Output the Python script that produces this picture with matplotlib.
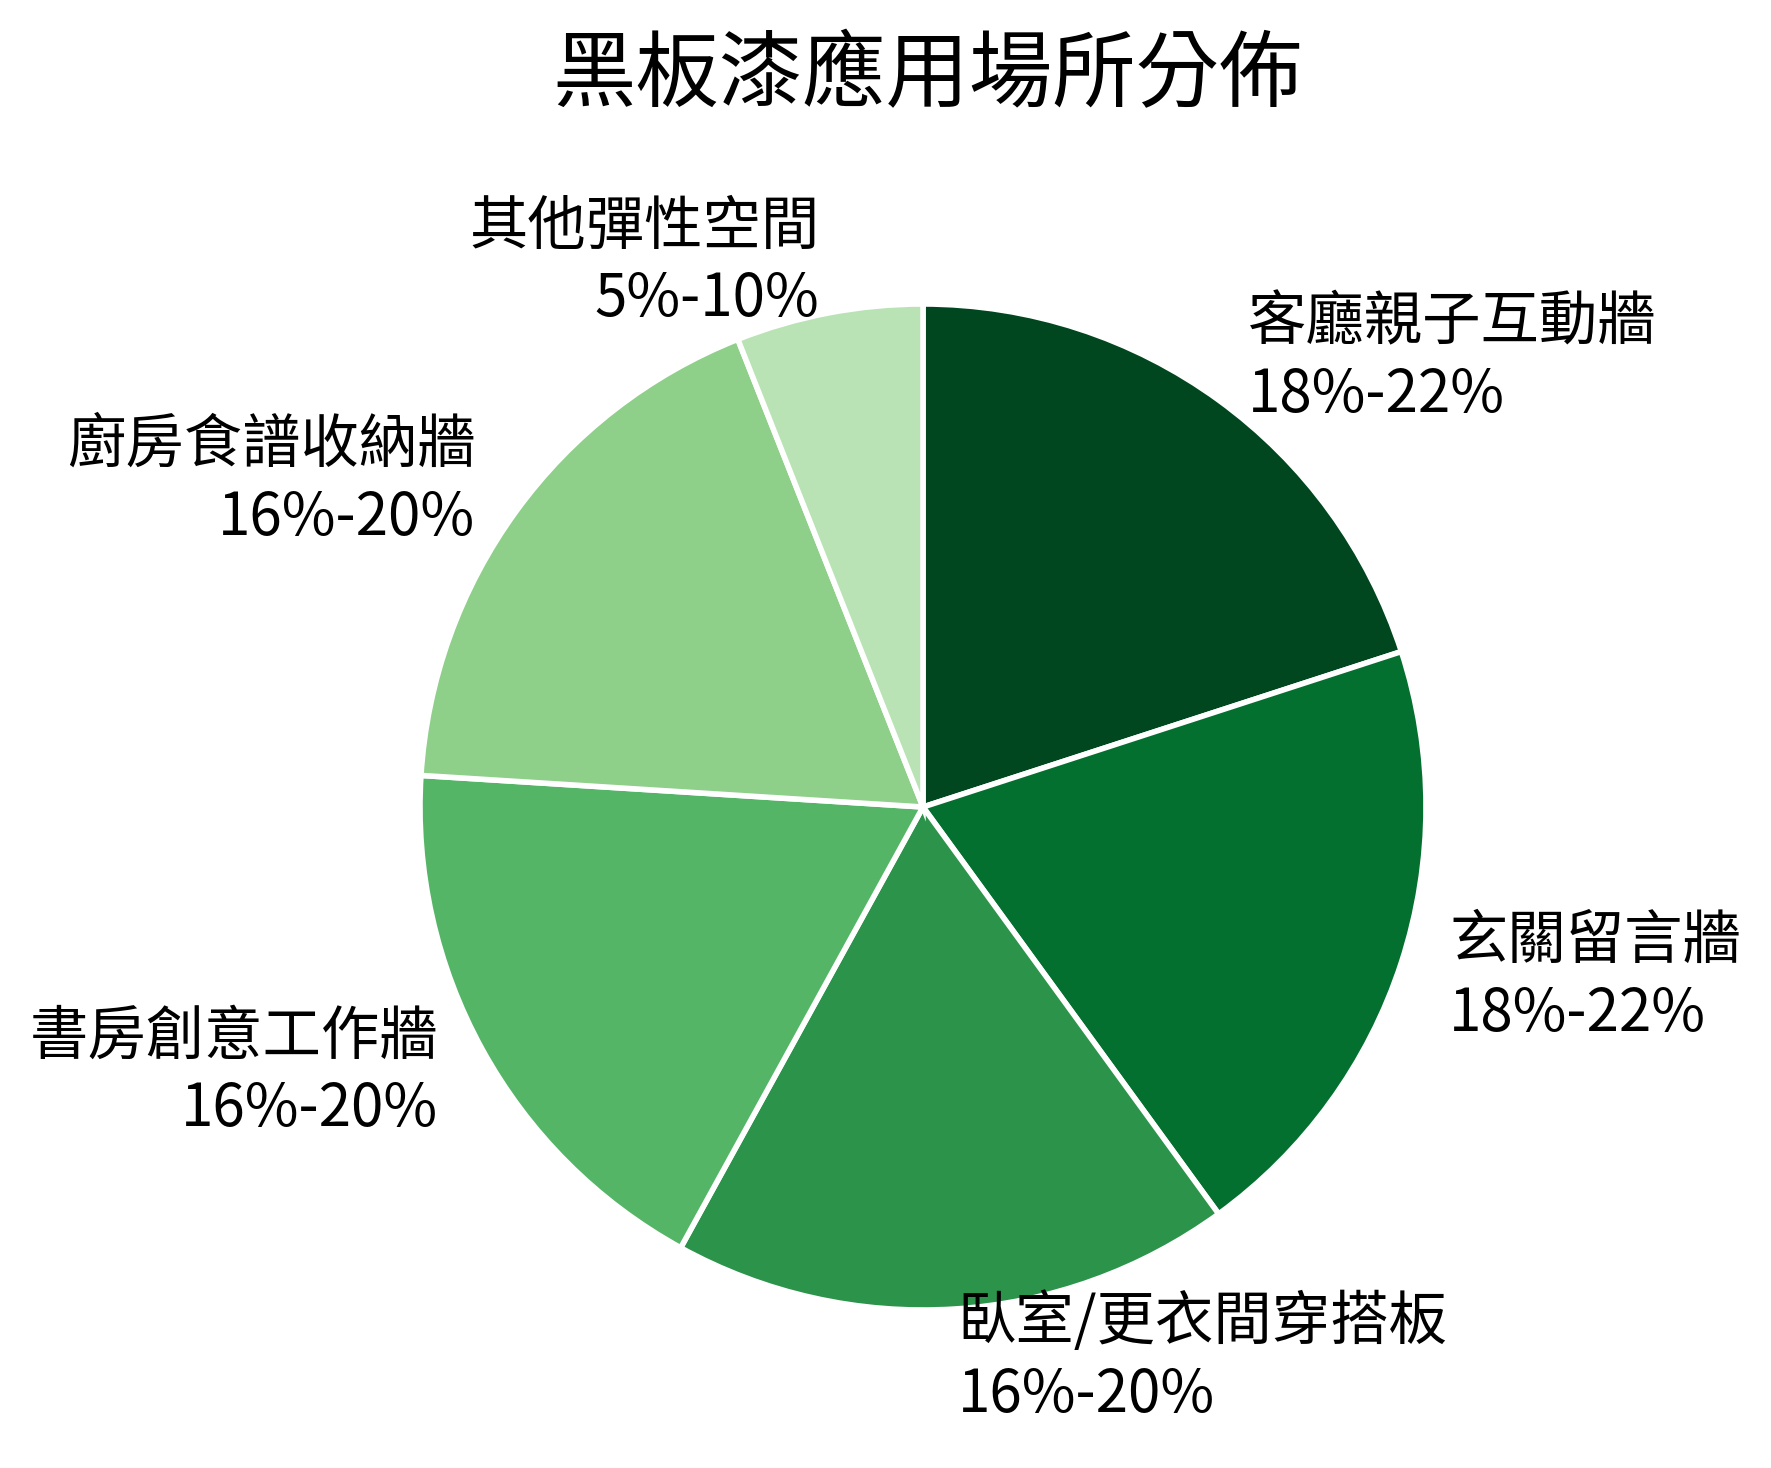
import matplotlib.pyplot as plt

plt.rcParams['font.family'] = ['Noto Sans CJK TC', 'DejaVu Sans']

# 場所、佔比(畫圖用)與標示的比例區間
places = ["客廳親子互動牆", "玄關留言牆", "臥室/更衣間穿搭板",
          "書房創意工作牆", "廚房食譜收納牆", "其他彈性空間"]
shares = [20, 20, 18, 18, 18, 6]
ranges = ["18%-22%", "18%-22%", "16%-20%", "16%-20%", "16%-20%", "5%-10%"]
colors = ["#00461e", "#04702f", "#2c934b", "#55b567", "#8ecf89", "#b9e3b4"]

labels = [f"{p}\n{r}" for p, r in zip(places, ranges)]

fig = plt.figure(figsize=(17.71, 14.68), dpi=100)

# pie 軸範圍是 ±1.25 半徑，半徑約 503 px，圓心約 (923, 807)
size = 2.5 * 503
ax = fig.add_axes([(923 - size / 2) / 1771, (1468 - 807 - size / 2) / 1468,
                   size / 1771, size / 1468])

ax.pie(
    shares,
    labels=labels,
    colors=colors,
    startangle=90,
    counterclock=False,
    labeldistance=1.1,
    wedgeprops={"edgecolor": "white", "linewidth": 4},
    textprops={"fontsize": 42, "color": "black", "linespacing": 1.25},
)
ax.set_aspect("equal")

fig.text(0.524, 0.948, "黑板漆應用場所分佈", ha="center", va="center", fontsize=60)

plt.savefig("out.png", dpi=100)
